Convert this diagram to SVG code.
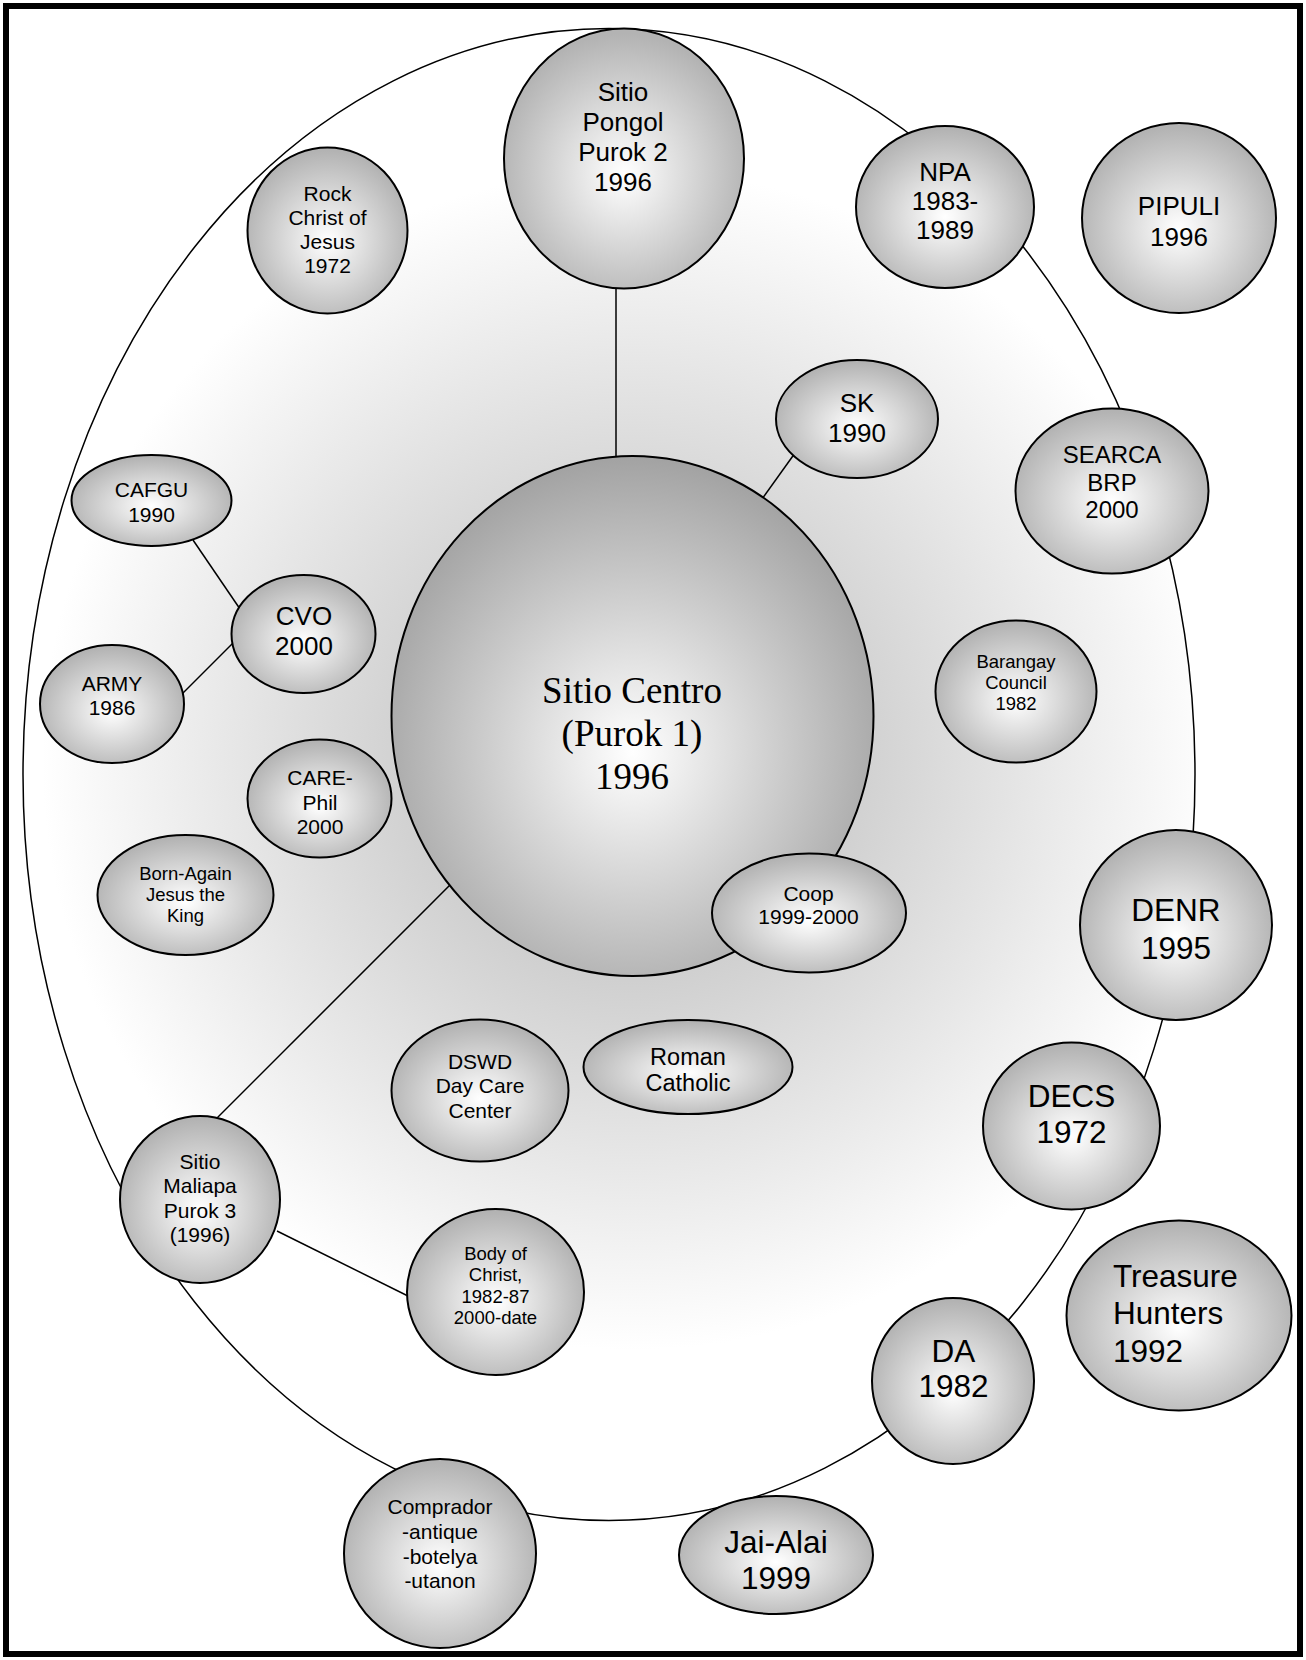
<svg xmlns="http://www.w3.org/2000/svg" width="1306" height="1660" viewBox="0 0 1306 1660">
<defs>
<radialGradient id="bgGrad" gradientUnits="userSpaceOnUse" cx="632" cy="760" r="590">
<stop offset="0" stop-color="#b4b4b4"/>
<stop offset="1" stop-color="#ffffff"/>
</radialGradient>
<radialGradient id="nodeGrad" cx="0.5" cy="0.55" r="0.53" fx="0.5" fy="0.56">
<stop offset="0" stop-color="#ffffff"/>
<stop offset="0.1" stop-color="#f8f8f8"/>
<stop offset="1" stop-color="#b3b3b3"/>
</radialGradient>
<radialGradient id="centerGrad" cx="0.5" cy="0.56" r="0.56" fx="0.5" fy="0.57">
<stop offset="0" stop-color="#ffffff"/>
<stop offset="0.1" stop-color="#f6f6f6"/>
<stop offset="1" stop-color="#a2a2a2"/>
</radialGradient>
</defs>
<style>
.node{fill:url(#nodeGrad);stroke:#000;stroke-width:2}
.center{fill:url(#centerGrad);stroke:#000;stroke-width:2}
.conn{stroke:#000;stroke-width:1.5;fill:none}
text{font-family:"Liberation Sans",Arial,sans-serif;fill:#000;text-anchor:middle}
.s18{font-size:18.5px}
.s21{font-size:21px}
.s24{font-size:24px}
.s26{font-size:26px}
.s31{font-size:31.5px}
.serif{font-family:"Liberation Serif","Times New Roman",serif;font-size:37px}
</style>
<rect x="0" y="0" width="1306" height="1660" fill="#ffffff"/>
<rect x="6" y="6" width="1294" height="1648" fill="none" stroke="#000" stroke-width="6"/>
<g id="community-boundary">
<ellipse cx="609" cy="774.5" rx="586" ry="746" fill="url(#bgGrad)" stroke="#000" stroke-width="1.5"/>
</g>
<g id="connectors">
<line class="conn" x1="616" y1="286" x2="616" y2="460"/>
<line class="conn" x1="795" y1="453" x2="762" y2="499"/>
<line class="conn" x1="193" y1="540" x2="240" y2="609"/>
<line class="conn" x1="181" y1="695" x2="235" y2="641"/>
<line class="conn" x1="451" y1="884" x2="214" y2="1121"/>
<line class="conn" x1="277" y1="1231" x2="410" y2="1297"/>
</g>
<g id="sitio-centro">
<ellipse class="center" cx="632.5" cy="716" rx="241" ry="260"/>
<text class="serif" x="632" y="703">Sitio Centro</text>
<text class="serif" x="632" y="746">(Purok 1)</text>
<text class="serif" x="632" y="789">1996</text>
</g>
<g id="sitio-pongol">
<ellipse class="node" cx="624" cy="158.5" rx="120" ry="130"/>
<text class="s26" x="623" y="101">Sitio</text>
<text class="s26" x="623" y="131">Pongol</text>
<text class="s26" x="623" y="161">Purok 2</text>
<text class="s26" x="623" y="191">1996</text>
</g>
<g id="npa">
<ellipse class="node" cx="945" cy="207" rx="89" ry="81"/>
<text class="s26" x="945" y="181">NPA</text>
<text class="s26" x="945" y="210">1983-</text>
<text class="s26" x="945" y="239">1989</text>
</g>
<g id="pipuli">
<ellipse class="node" cx="1179" cy="218" rx="97" ry="95"/>
<text class="s26" x="1179" y="214.5">PIPULI</text>
<text class="s26" x="1179" y="245.5">1996</text>
</g>
<g id="rock">
<ellipse class="node" cx="327.5" cy="230.5" rx="80" ry="83"/>
<text class="s21" x="327.5" y="200.5">Rock</text>
<text class="s21" x="327.5" y="224.5">Christ of</text>
<text class="s21" x="327.5" y="248.5">Jesus</text>
<text class="s21" x="327.5" y="272.5">1972</text>
</g>
<g id="sk">
<ellipse class="node" cx="857" cy="419" rx="81" ry="59"/>
<text class="s26" x="857" y="411.5">SK</text>
<text class="s26" x="857" y="441.5">1990</text>
</g>
<g id="searca">
<ellipse class="node" cx="1112" cy="491" rx="96.5" ry="82.5"/>
<text class="s24" x="1112" y="462.5">SEARCA</text>
<text class="s24" x="1112" y="490.5">BRP</text>
<text class="s24" x="1112" y="518">2000</text>
</g>
<g id="cafgu">
<ellipse class="node" cx="151.5" cy="500.5" rx="80" ry="45.5"/>
<text class="s21" x="151.5" y="496.5">CAFGU</text>
<text class="s21" x="151.5" y="521.5">1990</text>
</g>
<g id="cvo">
<ellipse class="node" cx="303.5" cy="634" rx="72" ry="59"/>
<text class="s26" x="304" y="624.5">CVO</text>
<text class="s26" x="304" y="654.5">2000</text>
</g>
<g id="army">
<ellipse class="node" cx="112" cy="704" rx="72" ry="59"/>
<text class="s21" x="112" y="690.5">ARMY</text>
<text class="s21" x="112" y="714.5">1986</text>
</g>
<g id="barangay-council">
<ellipse class="node" cx="1016" cy="691.5" rx="80.5" ry="71"/>
<text class="s18" x="1016" y="667.5">Barangay</text>
<text class="s18" x="1016" y="688.5">Council</text>
<text class="s18" x="1016" y="710">1982</text>
</g>
<g id="care-phil">
<ellipse class="node" cx="319.5" cy="798.5" rx="72" ry="59"/>
<text class="s21" x="320" y="785">CARE-</text>
<text class="s21" x="320" y="810">Phil</text>
<text class="s21" x="320" y="834">2000</text>
</g>
<g id="born-again">
<ellipse class="node" cx="185.5" cy="895" rx="88" ry="60"/>
<text class="s18" x="185.5" y="879.5">Born-Again</text>
<text class="s18" x="185.5" y="900.5">Jesus the</text>
<text class="s18" x="185.5" y="921.5">King</text>
</g>
<g id="coop">
<ellipse class="node" cx="809" cy="913" rx="97" ry="59.5"/>
<text class="s21" x="808.5" y="900.5">Coop</text>
<text class="s21" x="808.5" y="923.5">1999-2000</text>
</g>
<g id="denr">
<ellipse class="node" cx="1176" cy="925" rx="96" ry="95"/>
<text class="s31" x="1176" y="921">DENR</text>
<text class="s31" x="1176" y="958.5">1995</text>
</g>
<g id="dswd">
<ellipse class="node" cx="480" cy="1090.5" rx="88.5" ry="71"/>
<text class="s21" x="480" y="1068.5">DSWD</text>
<text class="s21" x="480" y="1093">Day Care</text>
<text class="s21" x="480" y="1117.5">Center</text>
</g>
<g id="roman-catholic">
<ellipse class="node" cx="688" cy="1067" rx="104.5" ry="47"/>
<text x="688" y="1064.5" style="font-size:23.5px">Roman</text>
<text x="688" y="1091" style="font-size:23.5px">Catholic</text>
</g>
<g id="decs">
<ellipse class="node" cx="1071.5" cy="1126" rx="88.5" ry="83.5"/>
<text class="s31" x="1071.5" y="1106.5">DECS</text>
<text class="s31" x="1071.5" y="1143">1972</text>
</g>
<g id="sitio-maliapa">
<ellipse class="node" cx="200" cy="1199.5" rx="80" ry="83.5"/>
<text class="s21" x="200" y="1168.5">Sitio</text>
<text class="s21" x="200" y="1193">Maliapa</text>
<text class="s21" x="200" y="1217.5">Purok 3</text>
<text class="s21" x="200" y="1242">(1996)</text>
</g>
<g id="body-of-christ">
<ellipse class="node" cx="495.5" cy="1292" rx="88.5" ry="83"/>
<text class="s18" x="495.5" y="1259.5">Body of</text>
<text class="s18" x="495.5" y="1280.5">Christ,</text>
<text class="s18" x="495.5" y="1302.5">1982-87</text>
<text class="s18" x="495.5" y="1323.5">2000-date</text>
</g>
<g id="treasure-hunters">
<ellipse class="node" cx="1179" cy="1315.5" rx="112.5" ry="95"/>
<text class="s31" x="1113" y="1286.5" style="text-anchor:start">Treasure</text>
<text class="s31" x="1113" y="1324" style="text-anchor:start">Hunters</text>
<text class="s31" x="1113" y="1361.5" style="text-anchor:start">1992</text>
</g>
<g id="da">
<ellipse class="node" cx="953" cy="1381" rx="81" ry="83"/>
<text class="s31" x="953.5" y="1361.5">DA</text>
<text class="s31" x="953.5" y="1397">1982</text>
</g>
<g id="comprador">
<ellipse class="node" cx="440" cy="1553.5" rx="96" ry="94.5"/>
<text class="s21" x="440" y="1513.5">Comprador</text>
<text class="s21" x="440" y="1538.5">-antique</text>
<text class="s21" x="440" y="1563.5">-botelya</text>
<text class="s21" x="440" y="1587.5">-utanon</text>
</g>
<g id="jai-alai">
<ellipse class="node" cx="776" cy="1555" rx="97" ry="59"/>
<text class="s31" x="776" y="1552.5">Jai-Alai</text>
<text class="s31" x="776" y="1588.5">1999</text>
</g>
</svg>
